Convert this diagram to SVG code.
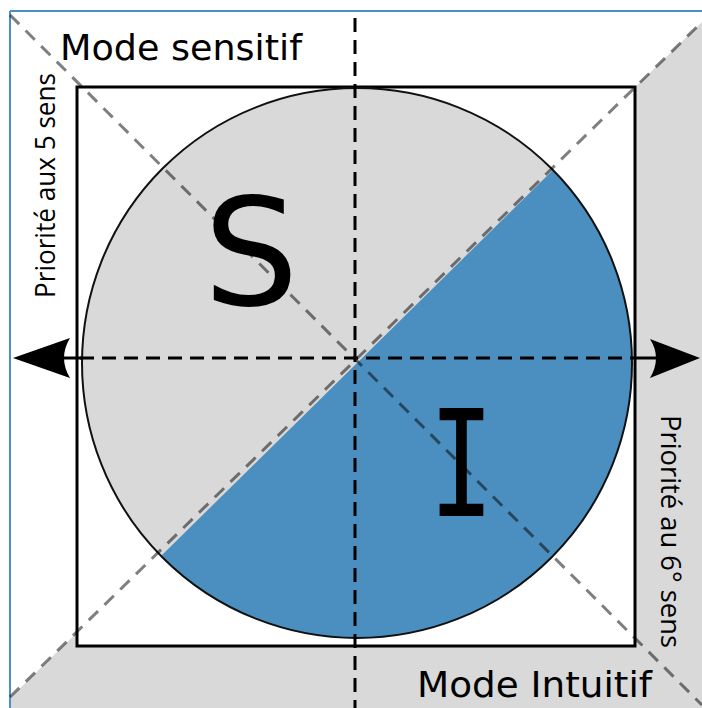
<svg xmlns="http://www.w3.org/2000/svg" width="702" height="708" viewBox="0 0 702 708">
<style>
.guide{fill:none;stroke:#000;stroke-opacity:0.5;stroke-width:3;stroke-dasharray:13 9}
.axis{fill:none;stroke:#000;stroke-width:3;stroke-dasharray:14 8}
.lbl{font-family:"DejaVu Sans",Verdana,sans-serif;font-size:35px;fill:#000}
.side{font-family:"Open Sans","Noto Sans",sans-serif;font-size:28px;fill:#000}
</style>
<rect x="0" y="0" width="702" height="708" fill="#fff"/>
<g id="background">
<polygon points="11,697 702,22 702,708 11,708" fill="#d9d9d9"/>
<line x1="10" y1="11" x2="10" y2="708" stroke="#4a90c8" stroke-width="2"/>
<line x1="10" y1="11" x2="702" y2="11" stroke="#4a90c8" stroke-width="2"/>
</g>
<g id="square">
<rect x="77" y="87" width="558" height="559" fill="#fff" stroke="#000" stroke-width="3"/>
</g>
<g id="circle">
<circle cx="357" cy="363" r="275" fill="#d9d9d9"/>
<path d="M553,170 A275 275 0 0 1 161,556 Z" fill="#4b8fc0"/>
<circle cx="357" cy="363" r="275" fill="none" stroke="#111" stroke-width="2"/>
</g>
<g id="connectors">
<line class="guide" x1="10" y1="15" x2="702" y2="705"/>
<line class="guide" x1="10" y1="697" x2="702" y2="22"/>
<line class="axis" x1="355" y1="18" x2="355" y2="708"/>
<line class="axis" x1="80" y1="358" x2="632" y2="358"/>
<line x1="58" y1="358" x2="82" y2="358" stroke="#000" stroke-width="3"/>
<line x1="632" y1="358" x2="662" y2="358" stroke="#000" stroke-width="3"/>
<path d="M13,358 L70,338 Q58,358 70,378 Z" fill="#000"/>
<path d="M700,358 L650,339 Q662,358 650,378 Z" fill="#000"/>
</g>
<g id="label-sensitif"><text class="lbl" x="60" y="60" textLength="242" lengthAdjust="spacingAndGlyphs">Mode sensitif</text></g>
<g id="label-intuitif"><text class="lbl" x="417" y="697" textLength="235" lengthAdjust="spacingAndGlyphs">Mode Intuitif</text></g>
<g id="label-5sens"><text class="side" transform="translate(55,298) rotate(-90)" textLength="225" lengthAdjust="spacingAndGlyphs">Priorité aux 5 sens</text></g>
<g id="label-6sens"><text class="side" transform="translate(661,415) rotate(90)" textLength="233" lengthAdjust="spacingAndGlyphs">Priorité au 6° sens</text></g>
<g id="letter-S"><text x="251" y="305" text-anchor="middle" font-family="DejaVu Sans,sans-serif" font-size="150" fill="#000">S</text></g>
<g id="letter-I"><text x="429" y="516" font-family="DejaVu Sans Mono,monospace" font-size="148" fill="#000" textLength="65" lengthAdjust="spacingAndGlyphs">I</text></g>
</svg>
